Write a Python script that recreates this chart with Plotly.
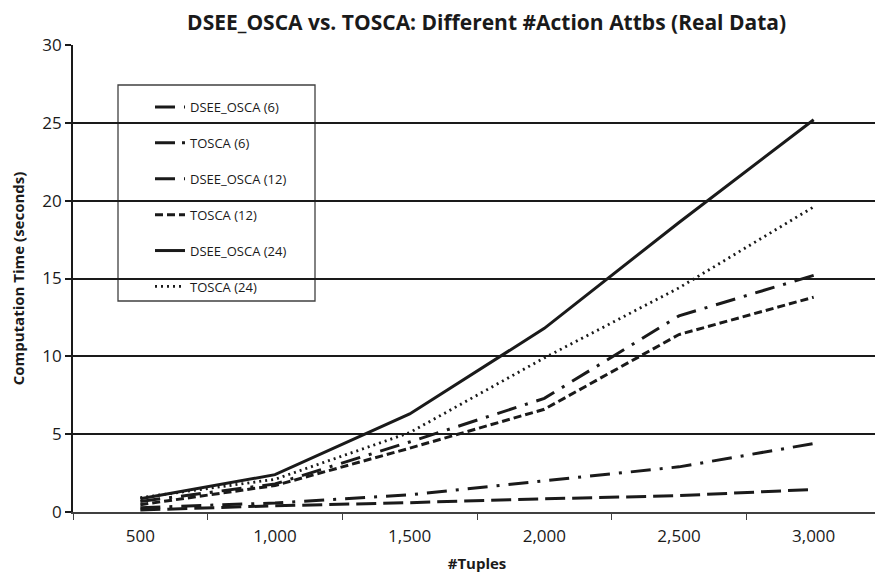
import plotly.graph_objects as go

categories = ["500", "1,000", "1,500", "2,000", "2,500", "3,000"]
series_names = ["DSEE_OSCA (6)", "TOSCA (6)", "DSEE_OSCA (12)", "TOSCA (12)", "DSEE_OSCA (24)", "TOSCA (24)"]
dsee_6 = [0.28, 0.58, 1.1, 2.0, 2.9, 4.4]
tosca_6 = [0.13, 0.4, 0.6, 0.85, 1.05, 1.45]
dsee_12 = [0.68, 1.8, 4.5, 7.3, 12.6, 15.2]
tosca_12 = [0.47, 1.7, 4.1, 6.6, 11.4, 13.8]
dsee_24 = [0.85, 2.4, 6.3, 11.8, 18.6, 25.2]
tosca_24 = [0.92, 2.1, 5.1, 9.9, 14.4, 19.6]

series_values = [dsee_6, tosca_6, dsee_12, tosca_12, dsee_24, tosca_24]
dashes = ["20px,9px,3px,9px", "20px,7px", "20px,9px,3px,9px", "8px,4px", "solid", "2px,4px"]
widths = [3, 3, 3, 3, 3, 2.8]

INK = "#1a1a1a"
FONT = "Open Sans"

fig = go.Figure()
for name, vals, dash, w in zip(series_names, series_values, dashes, widths):
    fig.add_trace(go.Scatter(
        x=categories, y=vals, mode="lines", name=name,
        legendgroup=name,
        line=dict(color=INK, width=w, dash=dash, shape="linear"),
    ))

# legend frame (white box with grey border), drawn above gridlines, below traces
fig.add_shape(type="rect", xref="paper", yref="paper",
              x0=(118 - 73) / 808, x1=(315 - 73) / 808,
              y0=(512 - 301) / 467, y1=(512 - 85) / 467,
              line=dict(color="#404040", width=1.3), fillcolor="white", layer="between")

fig.update_layout(
    width=875, height=573,
    margin=dict(l=65, r=2, t=37, b=69, autoexpand=False),
    paper_bgcolor="white", plot_bgcolor="white",
    font=dict(family=FONT, color=INK),
    title=dict(text="<b>DSEE_OSCA vs. TOSCA: Different #Action Attbs (Real Data)</b>",
               x=0.547, xref="container", xanchor="center",
               y=0.974, yref="container", yanchor="middle",
               font=dict(family=FONT, size=21, color=INK)),
    showlegend=True,
    legend=dict(x=(150 - 73) / 808, y=(512 - 92) / 467, xanchor="left", yanchor="top",
                bgcolor="rgba(0,0,0,0)", borderwidth=0,
                font=dict(family=FONT, size=13, color=INK),
                tracegroupgap=16, traceorder="grouped"),
    xaxis=dict(type="category", categoryorder="array", categoryarray=categories,
               range=[-0.5, 5.5], tickson="boundaries", automargin=False,
               ticks="outside", ticklen=6, tickwidth=1.3, tickcolor="#404040",
               showline=True, linecolor="#404040", linewidth=1.5,
               showgrid=False, zeroline=False, ticklabelstandoff=8,
               tickfont=dict(family=FONT, size=17, color=INK),
               title=dict(text="<b>#Tuples</b>", font=dict(family=FONT, size=15, color=INK), standoff=12)),
    yaxis=dict(range=[0, 30], dtick=5, tick0=0, automargin=False,
               ticks="outside", ticklen=6, tickwidth=1.5, tickcolor=INK,
               showline=True, linecolor=INK, linewidth=1.8,
               showgrid=True, gridcolor=INK, gridwidth=2, zeroline=False,
               tickfont=dict(family=FONT, size=17, color=INK),
               title=dict(text="<b>Computation Time (seconds)</b>", font=dict(family=FONT, size=15, color=INK), standoff=18)),
)

fig.write_html("out.html")
